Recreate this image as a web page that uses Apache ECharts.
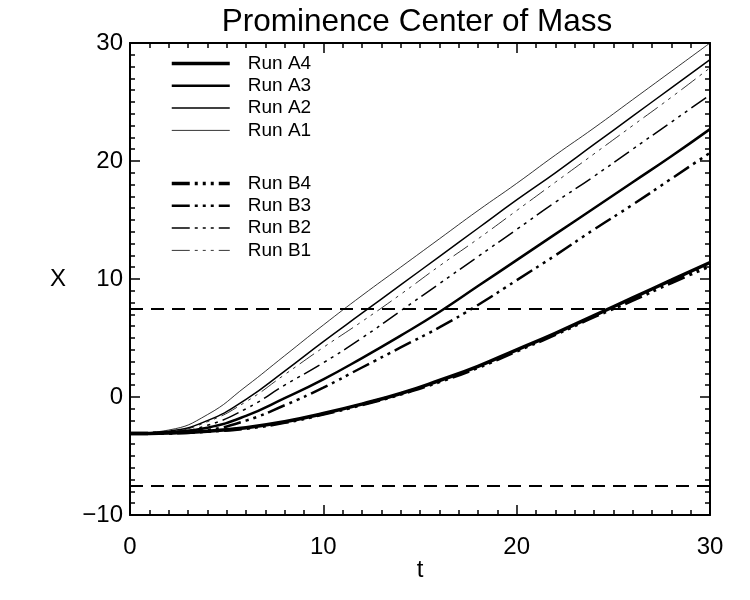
<!DOCTYPE html>
<html>
<head>
<meta charset="utf-8">
<style>
  html, body { margin: 0; padding: 0; background: #fff; }
  #main { width: 750px; height: 600px; }
</style>
<script src="https://cdn.jsdelivr.net/npm/echarts@6/dist/echarts.min.js"></script>
</head>
<body>
<div id="main"></div>
<script>
// time samples (t)
const tValues = [0, 2, 4, 6, 8, 10, 12, 14, 16, 18, 20, 22, 24, 26, 28, 30];

// X of prominence center of mass
const runA4 = [-3.1, -3.05, -2.9, -2.6, -2.1, -1.4, -0.6, 0.3, 1.4, 2.6, 4.0, 5.4, 6.9, 8.4, 9.9, 11.4];
const runA3 = [-3.1, -3.0, -2.6, -1.6, -0.1, 1.5, 3.3, 5.2, 7.2, 9.4, 11.6, 13.8, 16.0, 18.2, 20.4, 22.7];
const runA2 = [-3.1, -2.9, -2.0, -0.2, 2.2, 4.7, 7.1, 9.5, 11.9, 14.3, 16.7, 19.0, 21.4, 23.8, 26.2, 28.6];
const runA1 = [-3.1, -2.8, -1.5, 0.9, 3.5, 6.1, 8.6, 11.0, 13.4, 15.8, 18.1, 20.5, 22.8, 25.2, 27.6, 30.0];
const runB4 = [-3.1, -3.05, -2.9, -2.65, -2.15, -1.45, -0.65, 0.25, 1.3, 2.5, 3.9, 5.3, 6.8, 8.2, 9.7, 11.1];
const runB3 = [-3.1, -3.05, -2.8, -2.0, -0.7, 0.8, 2.5, 4.2, 5.9, 7.8, 9.9, 12.0, 14.2, 16.3, 18.5, 20.7];
const runB2 = [-3.1, -3.0, -2.4, -1.0, 1.0, 2.9, 5.0, 7.3, 9.6, 11.9, 14.2, 16.5, 18.7, 21.0, 23.3, 25.6];
const runB1 = [-3.1, -2.95, -2.1, -0.4, 1.9, 4.2, 6.4, 8.7, 11.1, 13.4, 15.8, 18.2, 20.6, 23.0, 25.4, 27.9];

const thresholds = [7.5, -7.5];

const namesA = ['Run A4', 'Run A3', 'Run A2', 'Run A1'];
const namesB = ['Run B4', 'Run B3', 'Run B2', 'Run B1'];

const FONT = 'Liberation Sans';
const widths = [3.5, 2.5, 1.5, 0.8];
const dashDots = [18, 5, 3, 5, 3, 5, 3, 5];

let pairs = (ys) => tValues.map((t, i) => [t, ys[i]]);

let makeSeries = (name, ys, width, dash) => ({
  name: name,
  type: 'line',
  data: pairs(ys),
  smooth: 0.5,
  symbol: 'none',
  lineStyle: { color: '#000', width: width, type: dash ? dashDots : 'solid' },
  itemStyle: { color: '#000' },
  emphasis: { disabled: true },
  animation: false
});

const series = [
  makeSeries('Run A4', runA4, widths[0], false),
  makeSeries('Run A3', runA3, widths[1], false),
  makeSeries('Run A2', runA2, widths[2], false),
  makeSeries('Run A1', runA1, widths[3], false),
  makeSeries('Run B4', runB4, widths[0], true),
  makeSeries('Run B3', runB3, widths[1], true),
  makeSeries('Run B2', runB2, widths[2], true),
  makeSeries('Run B1', runB1, widths[3], true),
]
// dashed limits
series.push({
  name: 'limits',
  type: 'line',
  data: [],
  silent: true,
  markLine: {
    symbol: 'none',
    silent: true,
    label: { show: false },
    lineStyle: { color: '#000', width: 2, type: [13, 8] },
    data: thresholds.map(v => ({ yAxis: v }))
  }
})

let minus = (v) => String(v).replace('-', '\u2212')

let frameAxis = (pos, isX, showLabel) => ({
  type: 'value',
  position: pos,
  min: isX ? 0 : -10,
  max: 30,
  interval: 10,
  axisLine: { show: true, onZero: false, lineStyle: { color: '#000', width: 2 } },
  axisTick: { show: true, inside: true, length: 10, lineStyle: { color: '#000', width: 1.5 } },
  minorTick: { show: true, splitNumber: 10, length: 5, lineStyle: { color: '#000', width: 1.5 } },
  splitLine: { show: false },
  axisLabel: {
    show: showLabel,
    color: '#000',
    fontSize: 24,
    fontFamily: FONT,
    margin: isX ? 20 : 7,
    formatter: minus
  }
})

const legendBase = {
  orient: 'vertical',
  left: 165,
  itemWidth: 58,
  itemHeight: 10,
  itemGap: 3.3,
  selectedMode: false,
  itemStyle: { opacity: 0 },
  lineStyle: { width: 'inherit', type: 'inherit' },
  textStyle: { color: '#000', fontSize: 19, fontFamily: FONT, lineHeight: 19, padding: [0, 0, 0, 13] }
}

const option = {
  backgroundColor: '#fff',
  animation: false,
  title: {
    text: 'Prominence Center of Mass',
    left: 412,
    top: 1,
    textAlign: 'center',
    textStyle: { color: '#000', fontSize: 31.5, fontWeight: 'normal', fontFamily: FONT }
  },
  legend: [
    Object.assign({}, legendBase, { top: 49, data: namesA }),
    Object.assign({}, legendBase, { top: 169, data: namesB })
  ],
  grid: { left: 130, right: 40, top: 43, bottom: 85, containLabel: false },
  xAxis: [
    Object.assign(frameAxis('bottom', true, true), {
      name: 't', nameLocation: 'middle', nameGap: 43, nameMoveOverlap: false,
      nameTextStyle: { color: '#000', fontSize: 24, fontFamily: FONT }
    }),
    frameAxis('top', true, false)
  ],
  yAxis: [
    Object.assign(frameAxis('left', false, true), {
      name: 'X', nameLocation: 'middle', nameGap: 64, nameRotate: 0, nameMoveOverlap: false,
      nameTextStyle: { color: '#000', fontSize: 24, fontFamily: FONT }
    }),
    frameAxis('right', false, false)
  ],
  series: series
}

let chartInstance = echarts.init(document.getElementById('main'), null, { renderer: 'canvas' })
chartInstance.setOption(option)
</script>
</body>
</html>
